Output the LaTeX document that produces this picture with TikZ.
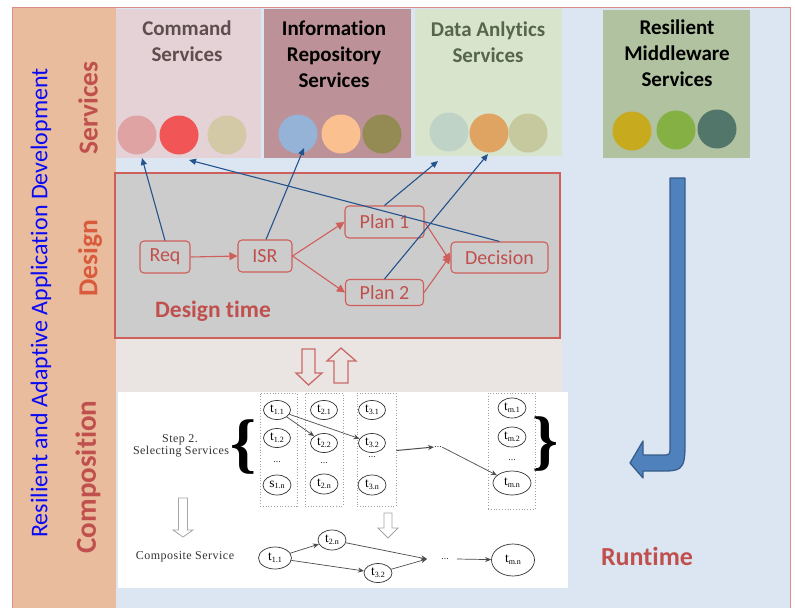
\documentclass[tikz,border=0pt]{standalone}
\usepackage{fontspec}
\setmainfont{Carlito}[Ligatures=CommonOff]
\newfontfamily\compserif{Liberation Serif}[LetterSpace=4]
\newfontfamily\plainserif{Liberation Serif}
\usetikzlibrary{arrows.meta,shapes.geometric}

\definecolor{bgblue}{HTML}{DCE6F2}
\definecolor{stripbg}{HTML}{E9BC9E}
\definecolor{framered}{HTML}{D98C8A}
\definecolor{cmdbg}{HTML}{E4D2D7}
\definecolor{infobg}{HTML}{BC9298}
\definecolor{databg}{HTML}{D8E4CC}
\definecolor{midbg}{HTML}{B0C2A0}
\definecolor{cmdtext}{HTML}{5F4E4E}
\definecolor{datatext}{HTML}{56664A}
\definecolor{titleblue}{HTML}{0A0AF5}
\definecolor{labelred}{HTML}{C0504D}
\definecolor{designred}{HTML}{D95B3C}
\definecolor{graybox}{HTML}{CCCCCC}
\definecolor{bandbg}{HTML}{EAE5E2}
\definecolor{boxred}{HTML}{CF5F5B}
\definecolor{lineblue}{HTML}{24538E}
\definecolor{arrowfill}{HTML}{4F81BD}
\definecolor{arrowline}{HTML}{385D8A}
\definecolor{compline}{HTML}{333333}
% service circles
\definecolor{ca}{HTML}{E0A3A3}
\definecolor{cb}{HTML}{F25556}
\definecolor{cc}{HTML}{D4C9A6}
\definecolor{ia}{HTML}{94B3D6}
\definecolor{ib}{HTML}{FAC08F}
\definecolor{ic}{HTML}{948A54}
\definecolor{da}{HTML}{BFD3C6}
\definecolor{db}{HTML}{E0A462}
\definecolor{dc}{HTML}{C5C99D}
\definecolor{ma}{HTML}{C8AA1E}
\definecolor{mb}{HTML}{85B044}
\definecolor{mc}{HTML}{53766A}

% t with a lowered index, as in the composition sketch
\newcommand\tix[2]{{\fontsize{13.5}{13.5}\selectfont #1}{\fontsize{8}{8}\selectfont\raisebox{-1.6pt}{#2}}}

\tikzset{
  svcircle/.style={circle, minimum size=39pt, inner sep=0pt},
  svtitle/.style={align=center, font=\fontsize{21}{26}\selectfont\bfseries},
  sidelabel/.style={rotate=90, font=\fontsize{27.5}{27.5}\selectfont\bfseries},
  dbox/.style={draw=boxred, rounded corners=4pt, line width=1.1pt, text=labelred,
    font=\fontsize{20}{20}\selectfont, inner sep=0pt},
  redarr/.style={draw=boxred, line width=1.1pt, -{Triangle[length=8pt,width=8pt]}},
  bluearr/.style={draw=lineblue, line width=1.1pt, -{Triangle[length=7pt,width=6pt]}},
  dotcol/.style={draw=gray!75, dotted, line width=0.8pt, inner sep=0pt},
  ell/.style={ellipse, draw=compline, line width=0.7pt, inner sep=0pt, font=\plainserif},
  cdots/.style={font=\plainserif\fontsize{10}{10}\selectfont, text=compline, inner sep=0pt},
  grayarr/.style={draw=gray!60!black, line width=0.7pt, -{Stealth[length=6pt,width=5pt]}},
  comptext/.style={font=\compserif\fontsize{12}{13}\selectfont, text=black!80, inner sep=0pt},
  hollowred/.style={draw=labelred!85, line width=1.3pt, line join=miter},
  hollowgray/.style={draw=gray!70, line width=0.8pt, fill=white},
}

\begin{document}
\begin{tikzpicture}[x=1pt,y=-1pt]
\useasboundingbox (0,0) rectangle (795,608);
\fill[white] (0,0) rectangle (795,608);

% frame and backgrounds
\fill[bgblue] (12,7) rectangle (790,608);
\fill[stripbg] (12,7) rectangle (116,608);
\draw[framered, line width=1pt] (12,608) -- (12,7) -- (790,7) -- (790,608);

% service panels
\fill[cmdbg] (116,9) rectangle (261,158);
\fill[infobg] (264,9) rectangle (411,158);
\fill[databg] (415,9) rectangle (562,156);
\fill[midbg] (603,10) rectangle (750,158);

\node[svtitle, text=cmdtext] (cmdtitle) at (187,41) {Command\\Services};
\node[svtitle, text=black] (infotitle) at (334,54) {Information\\Repository\\Services};
\node[svtitle, text=datatext] (datatitle) at (488,42) {Data Anlytics\\Services};
\node[svtitle, text=black] (midtitle) at (677,53) {Resilient\\Middleware\\Services};

\node[svcircle, fill=ca] (c1) at (137,135) {};
\node[svcircle, fill=cb] (c2) at (179,135) {};
\node[svcircle, fill=cc] (c3) at (227,135) {};
\node[svcircle, fill=ia] (i1) at (298,134) {};
\node[svcircle, fill=ib] (i2) at (341,134) {};
\node[svcircle, fill=ic] (i3) at (382,134) {};
\node[svcircle, fill=da] (d1) at (449,132) {};
\node[svcircle, fill=db] (d2) at (489,133) {};
\node[svcircle, fill=dc] (d3) at (528,133) {};
\node[svcircle, fill=ma] (m1) at (632,131) {};
\node[svcircle, fill=mb] (m2) at (676,130) {};
\node[svcircle, fill=mc] (m3) at (717,129) {};

% side labels
\node[rotate=90, text=titleblue, font=\fontsize{24}{24}\selectfont] (maintitle) at (41,303)
  {Resilient and Adaptive Application Development};
\node[sidelabel, text=labelred] (lblsvc) at (88,108) {Services};
\node[sidelabel, text=designred] (lbldes) at (90,258) {Design};
\node[sidelabel, text=labelred, font=\fontsize{29}{29}\selectfont\bfseries] (lblcomp) at (88,477) {Composition};

% design time panel
\fill[bandbg] (116,338) rectangle (562,392);
\draw[boxred, line width=1.2pt, fill=graybox] (115,173) rectangle (560,338);

\node[dbox, minimum width=50pt, minimum height=32pt] (req) at (165,257) {Req};
\node[dbox, minimum width=54pt, minimum height=32pt] (isr) at (265,256) {ISR};
\node[dbox, minimum width=79pt, minimum height=32pt] (plan1) at (384.5,222) {Plan 1};
\node[dbox, minimum width=78pt, minimum height=26pt] (plan2) at (384.5,292.5) {Plan 2};
\node[dbox, minimum width=97pt, minimum height=31pt] (dec) at (499.5,257.5) {Decision};
\node[text=labelred, font=\fontsize{23.5}{23.5}\selectfont\bfseries] (dtime) at (213,311) {Design time};

\draw[redarr] (req.east) -- (isr.west);
\draw[redarr] (isr.east) -- (plan1.west);
\draw[redarr] (isr.east) -- (plan2.west);
\draw[redarr] (plan1.east) -- ([yshift=-4pt]dec.west);
\draw[redarr] (plan2.east) -- ([yshift=2pt]dec.west);

% links from design steps to the services they use
\coordinate (tipc1) at (142,158);
\coordinate (tipc2) at (189,160);
\coordinate (tipi1) at (304,148);
\coordinate (tipdat) at (438,161);
\coordinate (tipd2) at (488,154);
\draw[bluearr] (req.north) -- (tipc1);
\draw[bluearr] (dec.north) -- (tipc2);
\draw[bluearr] ([xshift=1pt]isr.north) -- (tipi1);
\draw[bluearr] (plan1.north) -- (tipdat);
\draw[bluearr] (plan2.north) -- (tipd2);

% hollow arrows between design and composition
\draw[hollowred] (302,349) -- (315,349) -- (315,373) -- (322,373) -- (308.5,385)
  -- (296,373) -- (302,373) -- cycle;
\draw[hollowred] (341,348) -- (356,361) -- (348,361) -- (348,383) -- (334,383)
  -- (334,361) -- (327,361) -- cycle;

% composition panel
\fill[white] (118,392) rectangle (568,588);

\node[comptext] (step) at (180,440) {Step 2.};
\node[comptext] (selsvc) at (181,452) {Selecting Services};
\node[font=\plainserif\bfseries\fontsize{66}{66}\selectfont, inner sep=0pt] (lbrace) at (244,447) {\{};
\node[font=\plainserif\bfseries\fontsize{66}{66}\selectfont, inner sep=0pt] (rbrace) at (545,444) {\}};

\node[dotcol, minimum width=37pt, minimum height=113pt] (col1) at (278.5,449.5) {};
\node[dotcol, minimum width=38pt, minimum height=113pt] (col2) at (324,449.5) {};
\node[dotcol, minimum width=39pt, minimum height=113pt] (col3) at (376.5,449.5) {};
\node[dotcol, minimum width=47pt, minimum height=116pt] (colm) at (511.5,451) {};

\node[ell, minimum width=27pt, minimum height=19pt] (e11) at (277,410) {\tix{t}{1.1}};
\node[ell, minimum width=27pt, minimum height=19pt] (e12) at (277,438) {\tix{t}{1.2}};
\node[cdots] (k1) at (277,462) {...};
\node[ell, minimum width=28pt, minimum height=20pt] (s1n) at (277,485) {\tix{s}{1.n}};
\node[ell, minimum width=27pt, minimum height=19pt] (e21) at (324,410) {\tix{t}{2.1}};
\node[ell, minimum width=27pt, minimum height=19pt] (e22) at (324,443) {\tix{t}{2.2}};
\node[cdots] (k2) at (324,463) {...};
\node[ell, minimum width=28pt, minimum height=20pt] (e2n) at (324,484) {\tix{t}{2.n}};
\node[ell, minimum width=27pt, minimum height=19pt] (e31) at (372,410) {\tix{t}{3.1}};
\node[ell, minimum width=27pt, minimum height=19pt] (e32) at (372,443) {\tix{t}{3.2}};
\node[cdots] (k3) at (372,457) {...};
\node[ell, minimum width=28pt, minimum height=20pt] (e3n) at (372,485) {\tix{t}{3.n}};
\node[ell, minimum width=28pt, minimum height=20pt] (em1) at (512,408) {\tix{t}{m.1}};
\node[ell, minimum width=28pt, minimum height=20pt] (em2) at (512,437) {\tix{t}{m.2}};
\node[cdots] (km) at (512,460) {...};
\node[ell, minimum width=38pt, minimum height=24pt] (emn) at (512,483) {\tix{t}{m.n}};
\node[cdots] (kmid) at (438,447) {...};

\draw[grayarr] (e11) -- (e22);
\draw[grayarr] (e11) -- (e32);
\draw[grayarr, line width=1pt] ([yshift=-1pt]col3.east) -- (kmid.west);
\draw[grayarr] (kmid.east) -- (emn);

% hollow gray arrows
\draw[hollowgray] (178.5,498) -- (187.5,498) -- (187.5,530) -- (193,530) -- (183,537)
  -- (173,530) -- (178.5,530) -- cycle;
\draw[hollowgray] (384,513) -- (392,513) -- (392,528) -- (398,528) -- (388,538)
  -- (378,528) -- (384,528) -- cycle;

\node[comptext] (compsvc) at (185,557) {Composite Service};

\node[ell, minimum width=33pt, minimum height=22pt] (b11) at (275,558) {\tix{t}{1.1}};
\node[ell, minimum width=28pt, minimum height=20pt] (b2n) at (332,540) {\tix{t}{2.n}};
\node[ell, minimum width=28pt, minimum height=19pt] (b32) at (378,573) {\tix{t}{3.2}};
\coordinate (conv) at (427,559);
\node[cdots] (bdots) at (445,559) {...};
\node[ell, minimum width=43pt, minimum height=32pt] (bmn) at (513,560) {\tix{t}{m.n}};

\draw[grayarr] (b11) -- (b2n);
\draw[grayarr] (b11) -- (b32);
\draw[grayarr] (b2n) -- (conv);
\draw[grayarr] (b32) -- (conv);
\draw[grayarr] ([xshift=8pt]bdots.east) -- (bmn);

% runtime bent arrow
\draw[arrowline, fill=arrowfill, line width=1.3pt, line join=round]
  (670,178) -- (685,178) -- (685,446) .. controls (685,471) and (680,471) .. (660,471)
  -- (643,471) -- (643,478) -- (630,463) -- (643,441) -- (643,455) -- (662,455)
  .. controls (670,455) .. (670,447) -- cycle;
\node[text=labelred, font=\fontsize{26}{26}\selectfont\bfseries] (runtime) at (647,556) {Runtime};
\end{tikzpicture}
\end{document}
